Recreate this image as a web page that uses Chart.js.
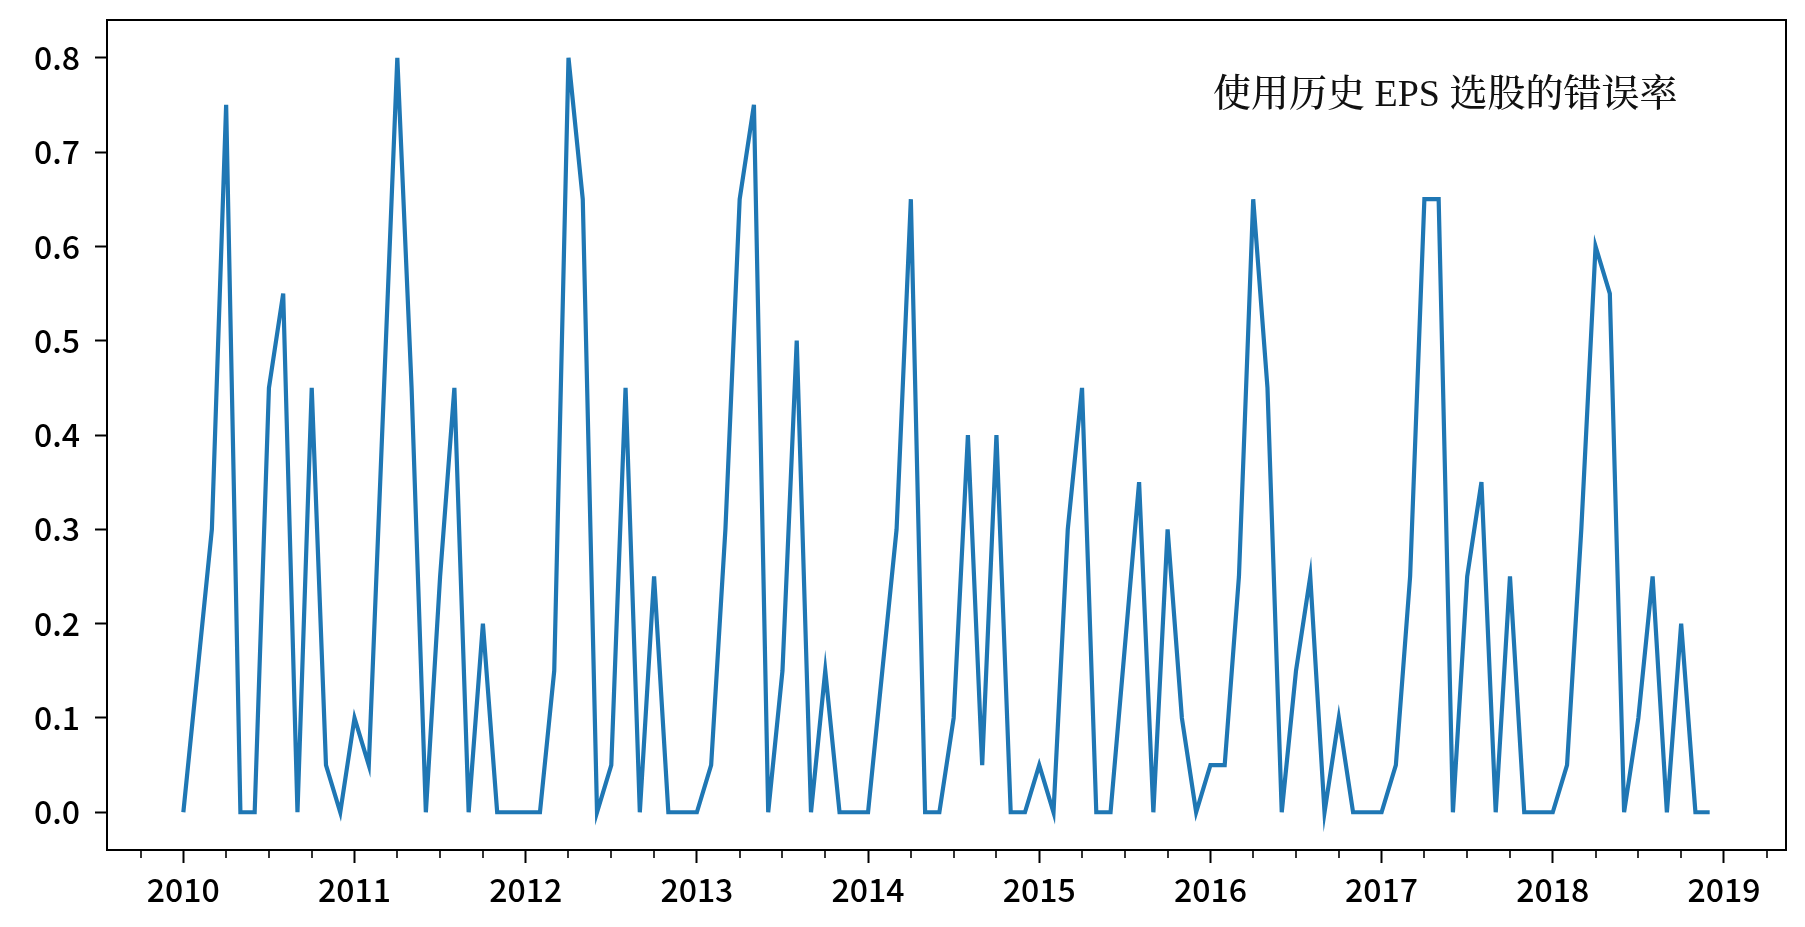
<!DOCTYPE html>
<html>
<head>
<meta charset="utf-8">
<script src="https://cdn.jsdelivr.net/npm/chart.js@4.4.1/dist/chart.umd.min.js"></script>
<style>
  html, body { margin: 0; padding: 0; background: #fff; }
  canvas { display: block; }
</style>
</head>
<body>
<canvas id="myChart" width="1805" height="927"></canvas>
<script>
// monthly error rate, one array per year (Jan..Dec)
var err2010 = [0, 0.15, 0.3, 0.75, 0, 0, 0.45, 0.55, 0, 0.45, 0.05, 0];
var err2011 = [0.1, 0.05, 0.425, 0.8, 0.45, 0, 0.25, 0.45, 0, 0.2, 0, 0];
var err2012 = [0, 0, 0.15, 0.8, 0.65, 0, 0.05, 0.45, 0, 0.25, 0, 0];
var err2013 = [0, 0.05, 0.3, 0.65, 0.75, 0, 0.15, 0.5, 0, 0.15, 0, 0];
var err2014 = [0, 0.15, 0.3, 0.65, 0, 0, 0.1, 0.4, 0.05, 0.4, 0, 0];
var err2015 = [0.05, 0, 0.3, 0.45, 0, 0, 0.175, 0.35, 0, 0.3, 0.1, 0];
var err2016 = [0.05, 0.05, 0.25, 0.65, 0.45, 0, 0.15, 0.25, 0, 0.1, 0, 0];
var err2017 = [0, 0.05, 0.25, 0.65, 0.65, 0, 0.25, 0.35, 0, 0.25, 0, 0];
var err2018 = [0, 0.05, 0.3, 0.6, 0.55, 0, 0.1, 0.25, 0, 0.2, 0, 0];

var years = [2010, 2011, 2012, 2013, 2014, 2015, 2016, 2017, 2018];
var yearTicks = [2010, 2011, 2012, 2013, 2014, 2015, 2016, 2017, 2018, 2019];
var yTicks = [0, 0.1, 0.2, 0.3, 0.4, 0.5, 0.6, 0.7, 0.8];
var title = '使用历史 EPS 选股的错误率';

// x = year + (month-1)/12
var byYear = [err2010, err2011, err2012, err2013, err2014, err2015, err2016, err2017, err2018];
var points = [];
years.forEach(function (yr, i) {
    byYear[i].forEach(function (v, m) {
        points.push({ x: yr + m / 12, y: v });
    });
});

var xMin = 2009.554, xMax = 2019.3625;
var quarterTicks = [];
for (var yr = 2009; yr <= 2019; yr++) {
    [0.25, 0.5, 0.75].forEach(function (q) {
        if (yr + q > xMin && yr + q < xMax) quarterTicks.push(yr + q);
    });
}

// frame, minor ticks, text
var extras = {
    id: 'extras',
    afterDraw: function (chart) {
        var ctx = chart.ctx, a = chart.chartArea, x = chart.scales.x;
        ctx.save();
        ctx.strokeStyle = '#000';
        ctx.lineWidth = 2;
        ctx.strokeRect(a.left, a.top, a.right - a.left, a.bottom - a.top);
        ctx.lineWidth = 1.6;
        quarterTicks.forEach(function (q) {
            var px = Math.round(x.getPixelForValue(q));
            ctx.beginPath();
            ctx.moveTo(px, a.bottom);
            ctx.lineTo(px, a.bottom + 8);
            ctx.stroke();
        });
        ctx.fillStyle = '#111';
        ctx.font = '500 38px "Liberation Serif", "Noto Serif CJK SC", "Noto Sans CJK SC", serif';
        ctx.textAlign = 'left';
        ctx.textBaseline = 'middle';
        ctx.fillText(title, 1213, 96);
        ctx.restore();
    }
};

var tickFont = { family: '"Noto Sans CJK SC", "DejaVu Sans", sans-serif', size: 32, weight: '500' };

var ctx = document.getElementById('myChart').getContext('2d');
var myChart = new Chart(ctx, {
    type: 'line',
    data: {
        datasets: [{
            data: points,
            borderColor: 'rgb(31, 119, 180)',
            borderWidth: 4.2,
            pointRadius: 0,
            tension: 0,
            fill: false
        }]
    },
    options: {
        responsive: false,
        animation: false,
        devicePixelRatio: 1,
        layout: { padding: { left: 0, top: 20, right: 19, bottom: 0 } },
        plugins: { legend: { display: false }, tooltip: { enabled: false } },
        scales: {
            x: {
                type: 'linear',
                min: xMin,
                max: xMax,
                afterBuildTicks: function (s) { s.ticks = yearTicks.map(function (v) { return { value: v }; }); },
                afterFit: function (s) { s.height = 77; s.paddingLeft = 0; s.paddingRight = 0; },
                ticks: {
                    autoSkip: false,
                    maxRotation: 0,
                    color: '#000',
                    font: tickFont,
                    padding: 8,
                    callback: function (v) { return String(v); }
                },
                grid: { drawOnChartArea: false, tickLength: 13, tickColor: '#000', tickWidth: 2 },
                border: { display: true, color: '#000', width: 2 }
            },
            y: {
                min: -0.04,
                max: 0.84,
                afterBuildTicks: function (s) { s.ticks = yTicks.map(function (v) { return { value: v }; }); },
                afterFit: function (s) { s.width = 107; s.paddingTop = 0; s.paddingBottom = 0; },
                ticks: {
                    color: '#000',
                    font: tickFont,
                    padding: 15,
                    callback: function (v) { return v.toFixed(1); }
                },
                grid: { drawOnChartArea: false, tickLength: 12, tickColor: '#000', tickWidth: 2 },
                border: { display: true, color: '#000', width: 2 }
            }
        }
    },
    plugins: [extras]
});
</script>
</body>
</html>
